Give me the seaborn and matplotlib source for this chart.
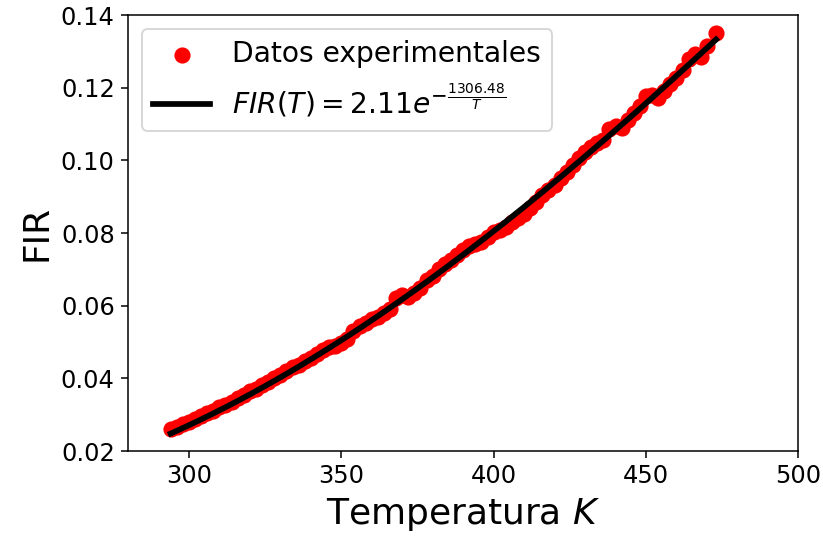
import numpy as np
import pandas as pd
import matplotlib
matplotlib.use("Agg")
import matplotlib.pyplot as plt
import seaborn as sns

temperatura = [294, 296, 298, 300, 302, 304, 306, 308, 310, 312,
               314, 316, 318, 320, 322, 324, 326, 328, 330, 332,
               334, 336, 338, 340, 342, 344, 346, 348, 350, 352,
               354, 356, 358, 360, 362, 364, 366, 368, 370, 372,
               374, 376, 378, 380, 382, 384, 386, 388, 390, 392,
               394, 396, 398, 400, 402, 404, 406, 408, 410, 412,
               414, 416, 418, 420, 422, 424, 426, 428, 430, 432,
               434, 436, 438, 440, 442, 444, 446, 448, 450, 452,
               454, 456, 458, 460, 462, 464, 466, 468, 470, 473]
fir = [0.0260, 0.0266, 0.0274, 0.0281, 0.0287, 0.0296, 0.0304, 0.0311, 0.0321, 0.0328,
       0.0336, 0.0347, 0.0353, 0.0364, 0.0371, 0.0383, 0.0390, 0.0401, 0.0409, 0.0420,
       0.0430, 0.0437, 0.0449, 0.0455, 0.0466, 0.0478, 0.0487, 0.0490, 0.0498, 0.0508,
       0.0530, 0.0544, 0.0552, 0.0563, 0.0570, 0.0581, 0.0592, 0.0620, 0.0630, 0.0624,
       0.0636, 0.0648, 0.0670, 0.0681, 0.0700, 0.0714, 0.0727, 0.0740, 0.0754, 0.0763,
       0.0770, 0.0776, 0.0788, 0.0803, 0.0808, 0.0816, 0.0829, 0.0842, 0.0853, 0.0868,
       0.0886, 0.0905, 0.0919, 0.0932, 0.0951, 0.0968, 0.0988, 0.1006, 0.1022, 0.1036,
       0.1048, 0.1055, 0.1086, 0.1096, 0.1090, 0.1110, 0.1130, 0.1150, 0.1176, 0.1180,
       0.1172, 0.1192, 0.1210, 0.1228, 0.1250, 0.1280, 0.1292, 0.1285, 0.1316, 0.1350]

# fitted model parameters (from the legend)
A = 2.11
B = 1306.48

datos = pd.DataFrame({"T": temperatura, "FIR": fir})
t_fit = np.linspace(min(temperatura), max(temperatura), 200)
ajuste = pd.DataFrame({"T": t_fit, "FIR": A * np.exp(-B / t_fit)})

fig = plt.figure(figsize=(6, 538 / 137.17), dpi=137.17)
ax = fig.add_axes([0.1555, 0.1617, 0.8145, 0.8103])

sns.scatterplot(data=datos, x="T", y="FIR", color="red", s=72, linewidth=0,
                label="Datos experimentales", ax=ax, zorder=2)
sns.lineplot(data=ajuste, x="T", y="FIR", color="black", linewidth=3,
             label=r"$FIR(T) = 2.11e^{-\frac{1306.48}{T}}$", ax=ax, zorder=3)

ax.set_xlim(280, 500)
ax.set_ylim(0.02, 0.14)
ax.set_xticks([300, 350, 400, 450, 500])
ax.set_yticks([0.02, 0.04, 0.06, 0.08, 0.10, 0.12, 0.14])
ax.yaxis.set_major_formatter(matplotlib.ticker.FormatStrFormatter("%.2f"))
ax.tick_params(labelsize=12.7)
ax.set_xlabel(r"Temperatura $K$", fontsize=18.9)
ax.set_ylabel("FIR", fontsize=18.9)
ax.legend(loc="upper left", fontsize=14.8)

plt.savefig("out.png", dpi=137.17)
